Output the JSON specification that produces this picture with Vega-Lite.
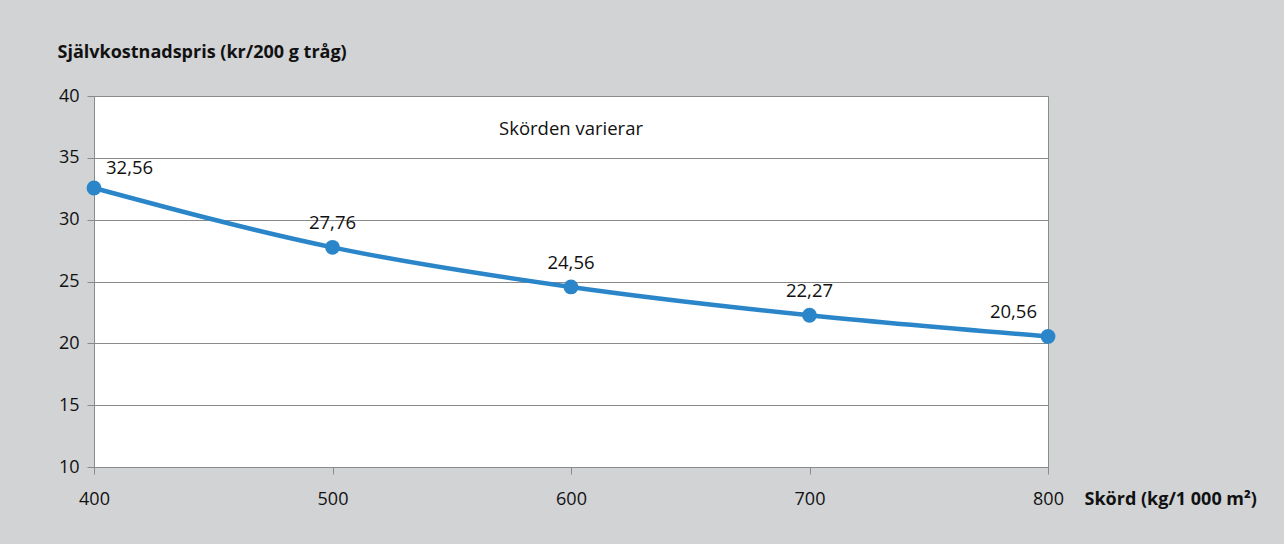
{
  "$schema": "https://vega.github.io/schema/vega-lite/v6.json",
  "width": 954,
  "height": 371,
  "autosize": "none",
  "padding": {"left": 94, "top": 96, "right": 236, "bottom": 77},
  "background": "#d2d3d5",
  "config": {
    "font": "Open Sans",
    "view": {"fill": "white", "stroke": "#8a8a8a", "strokeWidth": 1},
    "axis": {
      "domainColor": "#8a8a8a",
      "tickColor": "#8a8a8a",
      "gridColor": "#8a8a8a",
      "gridOpacity": 1,
      "labelFont": "Open Sans",
      "labelFontSize": 18,
      "labelColor": "#111111",
      "titleFont": "Open Sans",
      "titleFontSize": 18,
      "titleFontWeight": "bold",
      "titleColor": "#111111",
      "tickSize": 7
    }
  },
  "data": {
    "values": [
      {"skord": 400, "pris": 32.56, "etikett": "32,56"},
      {"skord": 500, "pris": 27.76, "etikett": "27,76"},
      {"skord": 600, "pris": 24.56, "etikett": "24,56"},
      {"skord": 700, "pris": 22.27, "etikett": "22,27"},
      {"skord": 800, "pris": 20.56, "etikett": "20,56"}
    ]
  },
  "encoding": {
    "x": {
      "field": "skord",
      "type": "quantitative",
      "scale": {"domain": [400, 800], "nice": false, "zero": false},
      "axis": {
        "values": [400, 500, 600, 700, 800],
        "grid": false,
        "labelPadding": 16,
        "labelFlush": false,
        "title": "Skörd (kg/1 000 m²)",
        "titleX": 990,
        "titleY": 32,
        "titleAlign": "left",
        "titleBaseline": "middle",
        "titleAnchor": null
      }
    },
    "y": {
      "field": "pris",
      "type": "quantitative",
      "scale": {"domain": [10, 40], "nice": false, "zero": false},
      "axis": {
        "values": [10, 15, 20, 25, 30, 35, 40],
        "grid": true,
        "labelPadding": 8,
        "title": "Självkostnadspris (kr/200 g tråg)",
        "titleAngle": 0,
        "titleX": -37,
        "titleY": -44,
        "titleAlign": "left",
        "titleBaseline": "middle"
      }
    }
  },
  "layer": [
    {
      "mark": {"type": "line", "interpolate": "monotone", "color": "#2a86c9", "strokeWidth": 4.5}
    },
    {
      "mark": {"type": "point", "filled": true, "opacity": 1, "color": "#2a86c9", "size": 220}
    },
    {
      "transform": [{"filter": "datum.skord == 400"}],
      "mark": {"type": "text", "align": "left", "baseline": "middle", "dx": 12, "dy": -20, "fontSize": 18.5, "color": "#111111"},
      "encoding": {"text": {"field": "etikett"}}
    },
    {
      "transform": [{"filter": "datum.skord > 400 && datum.skord < 800"}],
      "mark": {"type": "text", "align": "center", "baseline": "middle", "dy": -24, "fontSize": 18.5, "color": "#111111"},
      "encoding": {"text": {"field": "etikett"}}
    },
    {
      "transform": [{"filter": "datum.skord == 800"}],
      "mark": {"type": "text", "align": "right", "baseline": "middle", "dx": -11, "dy": -24, "fontSize": 18.5, "color": "#111111"},
      "encoding": {"text": {"field": "etikett"}}
    },
    {
      "data": {"values": [{"skord": 600, "pris": 37.3, "text": "Skörden varierar"}]},
      "mark": {"type": "text", "align": "center", "baseline": "middle", "fontSize": 18.5, "color": "#111111"},
      "encoding": {"text": {"field": "text"}}
    }
  ]
}
